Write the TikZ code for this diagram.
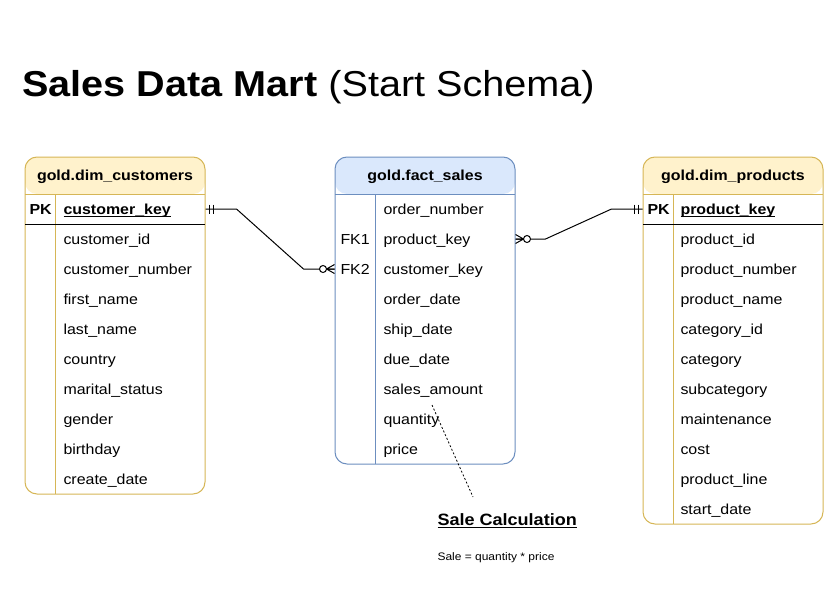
\documentclass[tikz,border=0pt]{standalone}
\usepackage{fontspec}
\setmainfont{Liberation Sans}[FakeStretch=1.1]
\usetikzlibrary{positioning,calc}
\definecolor{dimline}{HTML}{D6B656}
\definecolor{dimfill}{HTML}{FFF2CC}
\definecolor{factline}{HTML}{6C8EBF}
\definecolor{factfill}{HTML}{DAE8FC}
\newcommand\ulkey[1]{\setbox0\hbox{#1}\rlap{\rule[-2pt]{\wd0}{1pt}}\box0}

\begin{document}
\begin{tikzpicture}[x=1pt,y=-1pt,node distance=30pt,line width=1pt,
    erbox/.style={draw=#1line,fill=white,rounded corners=12pt,minimum width=180pt,inner sep=0pt,
      path picture={\fill[#1fill] (path picture bounding box.north west) rectangle
        ([yshift=-37pt]path picture bounding box.north east);}},
    hdr/.style={inner sep=0pt,text height=10.5pt,text depth=0pt,font=\bfseries\fontsize{14.5}{17}\selectfont},
    colname/.style={text width=130pt,align=left,inner sep=0pt,text height=11pt,text depth=0pt,
      font=\fontsize{14.5}{17}\selectfont},
    keycol/.style={anchor=west,inner sep=0pt,text height=11pt,text depth=0pt,font=\fontsize{14.5}{17}\selectfont},
    mandone/.pic={\draw (4,-4.5) -- (4,4.5) (8,-4.5) -- (8,4.5);},
    zeromany/.pic={\draw (0,-4.5) -- (-8,0) -- (0,4.5) (-8,0) -- (0,0);
      \draw[fill=white] (-11.5,0) circle (3.5pt);}]

  \useasboundingbox (0,0) rectangle (833,589);

  \node[anchor=base west,inner sep=0pt,font=\fontsize{36}{43}\selectfont] (title) at (22,96)
    {\textbf{Sales Data Mart} (Start Schema)};

  % tables
  \node[erbox=dim,minimum height=337pt]  (cust) at (115,325.5) {};
  \node[erbox=fact,minimum height=307pt] (fact) at (425,310.5) {};
  \node[erbox=dim,minimum height=367pt]  (prod) at (733,340.5) {};

  \draw[dimline] (25,194) -- (205,194) (55,194) -- (55,494);
  \draw (25,224) -- (205,224);
  \draw[factline] (335,194) -- (515,194) (375,194) -- (375,464);
  \draw[dimline] (643,194) -- (823,194) (673,194) -- (673,524);
  \draw (643,224) -- (823,224);

  \node[hdr] (custh) at (115,175) {gold.dim\_customers};
  \node[hdr] (facth) at (425,175) {gold.fact\_sales};
  \node[hdr] (prodh) at (733,175) {gold.dim\_products};

  % gold.dim_customers
  \node[keycol,font=\bfseries\fontsize{14.5}{17}\selectfont] (cpk) at (29,209) {PK};
  \node[colname,anchor=west] (ck) at (63,209) {\textbf{\ulkey{customer\_key}}};
  \node[colname] (c1) [below of=ck] {customer\_id};
  \node[colname] (c2) [below of=c1] {customer\_number};
  \node[colname] (c3) [below of=c2] {first\_name};
  \node[colname] (c4) [below of=c3] {last\_name};
  \node[colname] (c5) [below of=c4] {country};
  \node[colname] (c6) [below of=c5] {marital\_status};
  \node[colname] (c7) [below of=c6] {gender};
  \node[colname] (c8) [below of=c7] {birthday};
  \node[colname] (c9) [below of=c8] {create\_date};

  % gold.fact_sales
  \node[keycol] (fk1) at (340,239) {FK1};
  \node[keycol] (fk2) at (340,269) {FK2};
  \node[colname,anchor=west] (f0) at (383,209) {order\_number};
  \node[colname] (f1) [below of=f0] {product\_key};
  \node[colname] (f2) [below of=f1] {customer\_key};
  \node[colname] (f3) [below of=f2] {order\_date};
  \node[colname] (f4) [below of=f3] {ship\_date};
  \node[colname] (f5) [below of=f4] {due\_date};
  \node[colname] (f6) [below of=f5] {sales\_amount};
  \node[colname] (f7) [below of=f6] {quantity};
  \node[colname] (f8) [below of=f7] {price};

  % gold.dim_products
  \node[keycol,font=\bfseries\fontsize{14.5}{17}\selectfont] (ppk) at (647,209) {PK};
  \node[colname,anchor=west] (pk) at (680,209) {\textbf{\ulkey{product\_key}}};
  \node[colname] (p1) [below of=pk] {product\_id};
  \node[colname] (p2) [below of=p1] {product\_number};
  \node[colname] (p3) [below of=p2] {product\_name};
  \node[colname] (p4) [below of=p3] {category\_id};
  \node[colname] (p5) [below of=p4] {category};
  \node[colname] (p6) [below of=p5] {subcategory};
  \node[colname] (p7) [below of=p6] {maintenance};
  \node[colname] (p8) [below of=p7] {cost};
  \node[colname] (p9) [below of=p8] {product\_line};
  \node[colname] (p10) [below of=p9] {start\_date};

  % relations
  \draw (cust.east |- ck) -- ++(31,0) -- ($(fact.west |- f2)+(-31,0)$) -- (fact.west |- f2);
  \draw (fact.east |- f1) -- ++(30,0) -- ($(prod.west |- pk)+(-31,0)$) -- (prod.west |- pk);
  \pic at (cust.east |- ck) {mandone};
  \pic at (fact.west |- f2) {zeromany};
  \pic[xscale=-1] at (fact.east |- f1) {zeromany};
  \pic[xscale=-1] at (prod.west |- pk) {mandone};

  % note
  \node[anchor=base west,inner sep=0pt,font=\bfseries\fontsize{16.4}{20}\selectfont] (calc) at (437,525.5)
    {\ulkey{Sale Calculation}};
  \node[anchor=base west,inner sep=0pt,font=\fontsize{10.9}{13}\selectfont] (calcf) at (437,560)
    {Sale = quantity * price};
  \coordinate (qty) at (432,405);
  \coordinate (calcpt) at (473,497);
  \draw[line width=0.8pt,dash pattern=on 2pt off 2pt] (qty) -- (calcpt);

\end{tikzpicture}
\end{document}
